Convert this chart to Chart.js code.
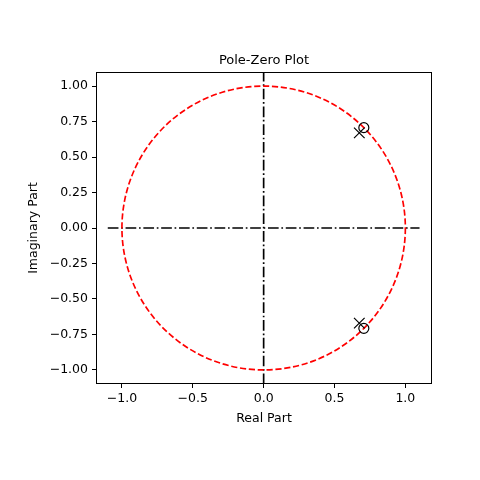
<!DOCTYPE html>
<html>
<head>
<meta charset="utf-8">
<script src="https://cdn.jsdelivr.net/npm/chart.js@4.4.1/dist/chart.umd.min.js"></script>
<style>
  html, body { margin: 0; padding: 0; background: #fff; }
  #wrap { width: 480px; height: 480px; }
</style>
</head>
<body>
<div id="wrap"><canvas id="pzChart" width="480" height="480"></canvas></div>
<script>
// values
const zerosRe = [0.707, 0.707];
const zerosIm = [0.707, -0.707];
const polesRe = [0.675, 0.675];
const polesIm = [0.67, -0.67];
const axisSpan = [-1.1, 1.1];
const unitRadius = 1;
const xTicks = [-1.0, -0.5, 0.0, 0.5, 1.0];
const yTicks = [-1.0, -0.75, -0.5, -0.25, 0.0, 0.25, 0.5, 0.75, 1.0];
const chartTitle = 'Pole-Zero Plot';

const fontFam = "'DejaVu Sans', sans-serif";
const minus = s => s.replace('-', '\u2212');

// red dashed unit circle, drawn right after the axis lines
const unitCirclePlugin = {
    id: 'unitCircle',
    afterDatasetDraw(chart, args) {
        if (chart.data.datasets[args.index].label !== 'imagAxis') return;
        const x = chart.scales.x, y = chart.scales.y;
        const cx = x.getPixelForValue(0), cy = y.getPixelForValue(0);
        const rx = x.getPixelForValue(unitRadius) - cx;
        const ry = cy - y.getPixelForValue(unitRadius);
        const ctx = chart.ctx;
        const a = chart.chartArea;
        ctx.save();
        ctx.beginPath();
        ctx.rect(a.left, a.top, a.right - a.left, a.bottom - a.top);
        ctx.clip();
        ctx.beginPath();
        ctx.ellipse(cx, cy, rx, ry, 0, 0, Math.PI * 2);
        ctx.strokeStyle = '#ff0000';
        ctx.lineWidth = 1.67;
        ctx.setLineDash([6.2, 2.7]);
        ctx.stroke();
        ctx.restore();
    }
};

// axes frame + title centred over the plot area
const framePlugin = {
    id: 'frame',
    afterDraw(chart) {
        const a = chart.chartArea, ctx = chart.ctx;
        ctx.save();
        ctx.strokeStyle = '#000';
        ctx.lineWidth = 1;
        ctx.strokeRect(Math.round(a.left) + 0.5, Math.round(a.top) + 0.5,
            Math.round(a.right - a.left) - 1, Math.round(a.bottom - a.top) - 1);
        ctx.fillStyle = '#000';
        ctx.font = '13px ' + fontFam;
        ctx.textAlign = 'center';
        ctx.textBaseline = 'alphabetic';
        ctx.fillText(chartTitle, (a.left + a.right) / 2, a.top - 8);
        ctx.restore();
    }
};

const ctx = document.getElementById('pzChart').getContext('2d');
new Chart(ctx, {
    type: 'scatter',
    data: {
        datasets: [
            {
                label: 'realAxis',
                data: axisSpan.map(v => ({ x: v, y: 0 })),
                showLine: true,
                borderColor: '#000',
                borderWidth: 1.67,
                borderDash: [10.7, 2.7, 1.7, 2.7],
                pointRadius: 0,
                order: 3
            },
            {
                label: 'imagAxis',
                data: axisSpan.map(v => ({ x: 0, y: v })),
                showLine: true,
                borderColor: '#000',
                borderWidth: 1.67,
                borderDash: [10.7, 2.7, 1.7, 2.7],
                pointRadius: 0,
                order: 2
            },
            {
                label: 'zeros',
                data: zerosRe.map((v, i) => ({ x: v, y: zerosIm[i] })),
                pointStyle: 'circle',
                pointRadius: 5,
                pointBorderWidth: 1.2,
                pointBorderColor: '#000',
                pointBackgroundColor: 'rgba(0,0,0,0)',
                order: 1
            },
            {
                label: 'poles',
                data: polesRe.map((v, i) => ({ x: v, y: polesIm[i] })),
                pointStyle: 'crossRot',
                pointRadius: 7.5,
                pointBorderWidth: 1.2,
                pointBorderColor: '#000',
                order: 0
            }
        ]
    },
    options: {
        responsive: false,
        animation: false,
        layout: { padding: { left: 0, right: 48, top: 72, bottom: 0 } },
        plugins: {
            legend: { display: false },
            tooltip: { enabled: false },
            title: { display: false }
        },
        scales: {
            x: {
                type: 'linear',
                min: -1.183,
                max: 1.188,
                afterBuildTicks: s => { s.ticks = xTicks.map(v => ({ value: v })); },
                afterFit: s => { s.height = 96; },
                ticks: {
                    color: '#000',
                    padding: 3,
                    font: { size: 12.5, family: fontFam },
                    callback: v => minus(Number(v).toFixed(1))
                },
                grid: {
                    drawOnChartArea: false,
                    drawTicks: true,
                    tickLength: 4,
                    color: '#000'
                },
                border: { display: false },
                title: {
                    display: true,
                    text: 'Real Part',
                    color: '#000',
                    font: { size: 12.5, family: fontFam },
                    padding: { top: 0, bottom: 54 }
                }
            },
            y: {
                type: 'linear',
                min: -1.099,
                max: 1.099,
                afterBuildTicks: s => { s.ticks = yTicks.map(v => ({ value: v })); },
                afterFit: s => { s.width = 96; },
                ticks: {
                    color: '#000',
                    padding: 4,
                    font: { size: 12.5, family: fontFam },
                    callback: v => minus(Number(v).toFixed(2))
                },
                grid: {
                    drawOnChartArea: false,
                    drawTicks: true,
                    tickLength: 4,
                    color: '#000'
                },
                border: { display: false },
                title: {
                    display: true,
                    text: 'Imaginary Part',
                    color: '#000',
                    font: { size: 12.5, family: fontFam },
                    padding: { top: 26, bottom: 0 }
                }
            }
        }
    },
    plugins: [unitCirclePlugin, framePlugin]
});
</script>
</body>
</html>
